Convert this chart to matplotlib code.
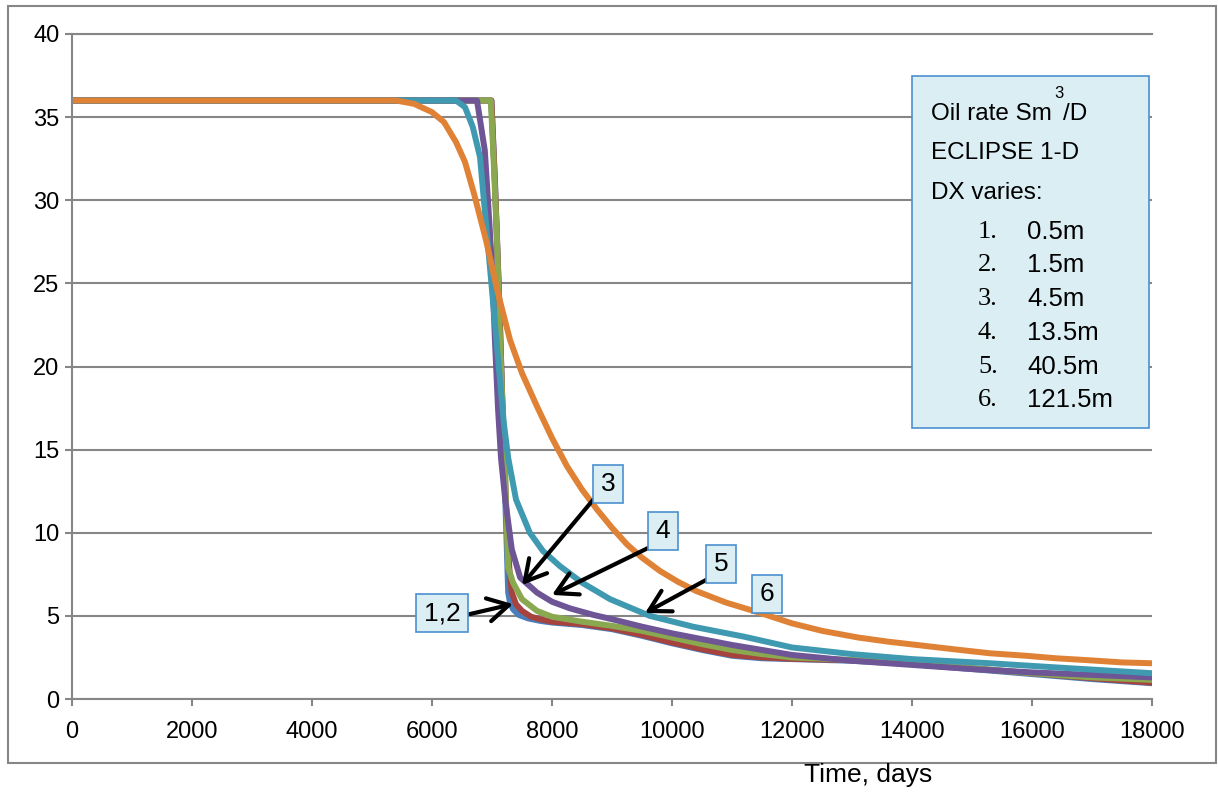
import matplotlib
matplotlib.use("Agg")
import matplotlib.pyplot as plt
from matplotlib.patches import Rectangle

# ---------------- data ----------------
days1 = [0, 6990, 7050, 7120, 7180, 7230, 7270, 7300, 7350, 7450, 7600, 7800, 8000, 8500, 9000,
         9500, 10000, 10500, 11000, 11500, 12000, 13000, 14000, 15000, 16000, 17000, 18000]
rate1 = [36, 36, 31, 24, 17, 11, 6.4, 5.8, 5.4, 5.05, 4.85, 4.7, 4.6, 4.45, 4.2,
         3.8, 3.35, 2.95, 2.6, 2.45, 2.4, 2.3, 2.1, 1.8, 1.5, 1.2, 0.95]

days2 = [0, 6990, 7050, 7120, 7180, 7240, 7290, 7330, 7400, 7500, 7650, 7800, 8000, 8500, 9000,
         9500, 10000, 10500, 11000, 11500, 12000, 13000, 14000, 15000, 16000, 17000, 18000]
rate2 = [36, 36, 31, 24, 17, 11, 7.8, 6.4, 5.7, 5.3, 4.95, 4.8, 4.65, 4.5, 4.25,
         3.85, 3.4, 3.0, 2.65, 2.5, 2.42, 2.33, 2.15, 1.85, 1.55, 1.25, 0.98]

days3 = [0, 6980, 7020, 7080, 7130, 7170, 7217, 7250, 7270, 7350, 7500, 7750, 8000, 8500, 9000,
         9500, 10000, 10500, 11000, 11500, 12000, 13000, 14000, 15000, 16000, 17000, 18000]
rate3 = [36, 36, 33, 28, 22, 18, 14, 10, 7.9, 7.0, 6.0, 5.3, 4.95, 4.65, 4.4,
         4.1, 3.7, 3.3, 2.95, 2.7, 2.5, 2.35, 2.15, 1.85, 1.55, 1.3, 1.15]

days4 = [0, 6750, 6880, 6950, 7000, 7050, 7100, 7150, 7220, 7330, 7470, 7750, 8000, 8300, 8700,
         9000, 9500, 10000, 10500, 11000, 11500, 12000, 13000, 14000, 15000, 16000, 17000, 18000]
rate4 = [36, 36, 33, 29, 26, 21.5, 17.5, 14.5, 12, 9, 7.3, 6.4, 5.85, 5.45, 5.05,
         4.8, 4.35, 3.95, 3.6, 3.25, 2.95, 2.65, 2.3, 2.05, 1.8, 1.6, 1.45, 1.3]

days5 = [0, 6400, 6550, 6680, 6800, 6900, 7000, 7100, 7200, 7270, 7400, 7630, 7850, 8130, 8500,
         8970, 9630, 10350, 11200, 12000, 13000, 14000, 15300, 16400, 18000]
rate5 = [36, 36, 35.6, 34.4, 32.6, 28.6, 24.6, 20.5, 16.5, 14.5, 12, 10, 8.9, 8.0, 7.0,
         6.0, 5.0, 4.35, 3.75, 3.1, 2.7, 2.4, 2.15, 1.9, 1.55]

days6 = [0, 5400, 5700, 6000, 6200, 6400, 6550, 6700, 6900, 7100, 7300, 7500, 7750, 8000, 8250,
         8500, 8750, 9000, 9250, 9500, 9800, 10100, 10400, 10900, 11450, 12000, 12500, 13100,
         13600, 14200, 14800, 15300, 15900, 16400, 17000, 17500, 18000]
rate6 = [36, 36, 35.8, 35.3, 34.7, 33.5, 32.3, 30.4, 27.6, 24.4, 21.6, 19.6, 17.6, 15.7, 14.0,
         12.6, 11.4, 10.3, 9.3, 8.5, 7.7, 7.05, 6.5, 5.8, 5.2, 4.55, 4.1, 3.7,
         3.45, 3.2, 2.95, 2.75, 2.6, 2.45, 2.32, 2.2, 2.15]

x_ticks = [0, 2000, 4000, 6000, 8000, 10000, 12000, 14000, 16000, 18000]
y_ticks = [0, 5, 10, 15, 20, 25, 30, 35, 40]

legend_title = ["Oil rate Sm", "ECLIPSE 1-D", "DX varies:"]
legend_nums = ["1.", "2.", "3.", "4.", "5.", "6."]
legend_vals = ["0.5m", "1.5m", "4.5m", "13.5m", "40.5m", "121.5m"]

# label text, label centre (days, rate), arrow tail, arrow head
labels = ["1,2", "3", "4", "5", "6"]
label_pos = [(6167, 5.17), (8933, 12.93), (9850, 10.1), (10817, 8.12), (11583, 6.32)]
arrow_tail = [(6633, 5.11), (8683, 11.97), (9600, 9.08), (10567, 7.16), None]
arrow_head = [(7350, 5.71), (7500, 6.86), (8000, 6.26), (9550, 5.17), None]

colors = ["#4A7EBB", "#A6433F", "#8AA84F", "#6E5596", "#3F99B1", "#E08236"]
series = [(days1, rate1), (days2, rate2), (days3, rate3), (days4, rate4), (days5, rate5), (days6, rate6)]

# ---------------- figure ----------------
W, H = 1218, 794
fig = plt.figure(figsize=(W / 100, H / 100), dpi=100)
plt.rcParams['font.family'] = ['Liberation Sans', 'DejaVu Sans']

def fx(x):
    return x / W

def fy(y):
    return 1 - y / H

gray = "#868686"
fig.patches.append(Rectangle((fx(8), fy(763)), fx(1216) - fx(8), fy(6) - fy(763),
                             transform=fig.transFigure, fill=False, edgecolor=gray, lw=1.5))

ax = fig.add_axes([fx(72), fy(699), fx(1152) - fx(72), fy(34) - fy(699)])
ax.set_xlim(0, 18000)
ax.set_ylim(0, 40)
ax.set_xticks(x_ticks)
ax.set_yticks(y_ticks)
ax.set_xticklabels([str(t) for t in x_ticks])
ax.set_yticklabels([str(t) for t in y_ticks])
ax.tick_params(axis='both', direction='out', length=5, width=1.5, color=gray, labelsize=17)
ax.tick_params(axis='x', pad=11)
ax.tick_params(axis='y', pad=4)
for s in ['top', 'right']:
    ax.spines[s].set_visible(False)
for s in ['left', 'bottom']:
    ax.spines[s].set_color(gray)
    ax.spines[s].set_linewidth(1.5)
ax.yaxis.grid(True, color=gray, lw=1.5)
ax.set_axisbelow(True)
ax.axhline(40, color=gray, lw=1.5, clip_on=False, zorder=0.5)

for (d, r), c in zip(series, colors):
    ax.plot(d, r, color=c, lw=4.3, solid_joinstyle='round', solid_capstyle='round', zorder=2)

# annotation labels
box_fc = "#DAEEF3"
box_ec = "#4A90D0"
for lab, pos, tail, head in zip(labels, label_pos, arrow_tail, arrow_head):
    ax.text(pos[0], pos[1], lab, ha='center', va='center', fontsize=19, zorder=5,
            bbox=dict(boxstyle='square,pad=0.28', fc=box_fc, ec=box_ec, lw=1.2))
    if tail is not None:
        ax.annotate('', xy=head, xytext=tail, zorder=4,
                    arrowprops=dict(arrowstyle='->,head_length=0.75,head_width=0.42',
                                    color='black', lw=3.0, mutation_scale=20,
                                    shrinkA=0, shrinkB=0))

# legend box
fig.patches.append(Rectangle((fx(912), fy(428)), fx(1149) - fx(912), fy(76) - fy(428),
                             transform=fig.transFigure, fc=box_fc, ec=box_ec, lw=1.2, zorder=6))
t0 = fig.text(fx(931), fy(114), legend_title[0], fontsize=17.5, va='center', ha='left', zorder=7)
fig.canvas.draw()
bb = t0.get_window_extent()
x_end = bb.x1  # pixels
fig.text(fx(x_end + 2), fy(94), "3", fontsize=12, va='center', ha='left', zorder=7)
fig.text(fx(x_end + 11), fy(114), "/D", fontsize=17.5, va='center', ha='left', zorder=7)
fig.text(fx(931), fy(153), legend_title[1], fontsize=17.5, va='center', ha='left', zorder=7)
fig.text(fx(931), fy(193), legend_title[2], fontsize=17.5, va='center', ha='left', zorder=7)
ys = [232, 265, 299, 333, 367, 400]
for n, v, yy in zip(legend_nums, legend_vals, ys):
    fig.text(fx(978), fy(yy), n, fontsize=19, va='center', ha='left', zorder=7,
             family=['Liberation Serif', 'DejaVu Serif'])
    fig.text(fx(1027), fy(yy), v, fontsize=18.5, va='center', ha='left', zorder=7)

fig.text(fx(868), fy(775), "Time, days", fontsize=19, ha='center', va='center')

fig.savefig("out.png", dpi=100)
